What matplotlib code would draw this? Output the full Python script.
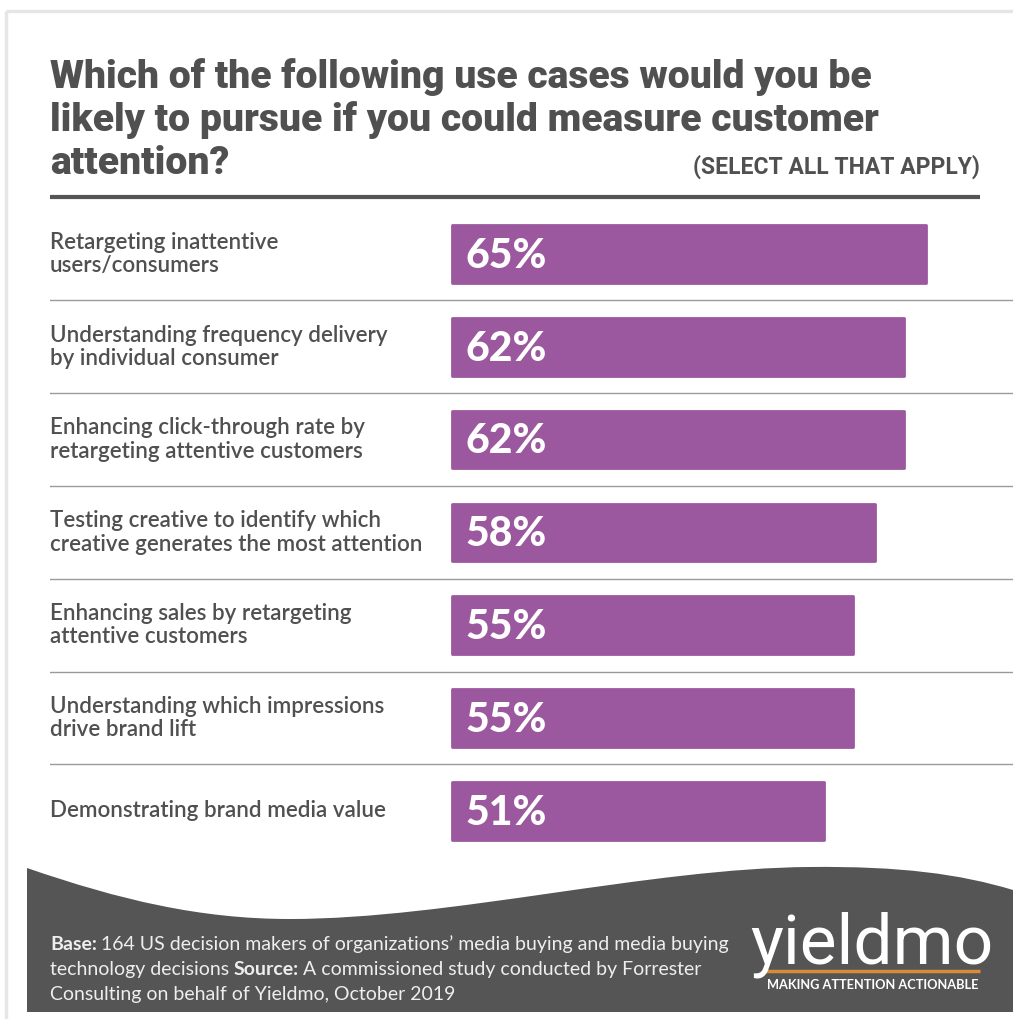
import matplotlib.pyplot as plt
from matplotlib.path import Path
from matplotlib.patches import PathPatch, Rectangle

categories = [
    'Retargeting inattentive\nusers/consumers',
    'Understanding frequency delivery\nby individual consumer',
    'Enhancing click-through rate by\nretargeting attentive customers',
    'Testing creative to identify which\ncreative generates the most attention',
    'Enhancing sales by retargeting\nattentive customers',
    'Understanding which impressions\ndrive brand lift',
    'Demonstrating brand media value',
]
values = [65, 62, 62, 58, 55, 55, 51]

title_lines = [
    'Which of the following use cases would you be',
    'likely to pursue if you could measure customer',
    'attention?',
]
subtitle = '(SELECT ALL THAT APPLY)'

W, H = 1013, 1019
TXT = '#505050'
BAR = '#9b589e'
FOOT = '#555555'

fig = plt.figure(figsize=(W / 100, H / 100), dpi=100)
fig.patch.set_facecolor('white')

# background axes in pixel coordinates for decorations
bg = fig.add_axes([0, 0, 1, 1])
bg.set_xlim(0, W)
bg.set_ylim(H, 0)
bg.axis('off')

# card border
bg.add_patch(Rectangle((6, 11), W, H, facecolor='none', edgecolor='#e6e6e6', lw=2.5))

# title
for i, line in enumerate(title_lines):
    bg.text(50, 88 + i * 43, line, fontsize=28.2, fontweight='black',
            family='Roboto', color=TXT, va='baseline', ha='left')
bg.text(980, 174, subtitle, fontsize=16.5, fontweight='bold', family='Roboto',
        color=TXT, va='baseline', ha='right')
bg.plot([50, 980], [197, 197], color=FOOT, lw=3, solid_capstyle='butt')

# footer wave
verts = [(27, 868), (120, 900), (200, 919), (290, 919),
         (450, 919), (650, 868), (810, 867),
         (900, 866), (960, 874), (W, 890),
         (W, 1012), (27, 1012), (27, 868)]
codes = [Path.MOVETO] + [Path.CURVE4] * 9 + [Path.LINETO] * 2 + [Path.CLOSEPOLY]
bg.add_patch(PathPatch(Path(verts, codes), facecolor=FOOT, edgecolor='none'))

fs = 14
fc = '#eeeeee'
t = bg.text(50, 950, 'Base:', fontsize=fs, fontweight='bold', family='Lato', color=fc, va='baseline')
bg.annotate('164 US decision makers of organizations\u2019 media buying and media buying',
            xy=(1, 0), xycoords=t, xytext=(3, 0), textcoords='offset points',
            fontsize=fs, family='Lato', color=fc, va='bottom')
t = bg.text(50, 975, 'technology decisions', fontsize=fs, family='Lato', color=fc, va='baseline')
t = bg.annotate('Source:', xy=(1, 0), xycoords=t, xytext=(3, 0), textcoords='offset points',
                fontsize=fs, fontweight='bold', family='Lato', color=fc, va='bottom')
bg.annotate('A commissioned study conducted by Forrester', xy=(1, 0), xycoords=t,
            xytext=(3, 0), textcoords='offset points',
            fontsize=fs, family='Lato', color=fc, va='bottom')
bg.text(50, 1000, 'Consulting on behalf of Yieldmo, October 2019', fontsize=fs,
        family='Lato', color=fc, va='baseline')

# logo
bg.text(872, 964, 'yieldmo', fontsize=50, fontweight='normal', family='Roboto',
        color='white', va='baseline', ha='center')
bg.plot([765, 980], [971, 971], color='#d98b3a', lw=2.5, solid_capstyle='butt')
bg.text(873, 989, 'MAKING ATTENTION ACTIONABLE', fontsize=9.2, fontweight='bold',
        family='Lato', color='white', va='baseline', ha='center')

# bar axes: x=0 at px 452, 7.29 px per percent; rows centered 254 + 92.8*i
px_per = 7.29
x0_px, left_px, right_px = 452, 50, W
row_h = 92.8
top_px = 254 - row_h / 2
n = len(values)
ax = fig.add_axes([left_px / W, 1 - (top_px + row_h * n) / H,
                   (right_px - left_px) / W, row_h * n / H])
ax.set_xlim(-(x0_px - left_px) / px_per, (right_px - x0_px) / px_per)
ax.set_ylim(n - 0.5, -0.5)
ax.axis('off')
ax.patch.set_alpha(0)

ypos = list(range(n))
ax.barh(ypos, values, height=0.62, left=0, color=BAR, edgecolor=BAR,
        linewidth=2, joinstyle='round')
for i in range(n - 1):
    ax.axhline(i + 0.5, color='#9a9a9a', lw=1)
for y, cat, v in zip(ypos, categories, values):
    ax.text(0, y, cat, transform=ax.get_yaxis_transform(), fontsize=16.1,
            fontweight='semibold', family='Lato', color=TXT, va='center',
            ha='left', linespacing=1.15)
    ax.text(1.9, y + 0.02, f'{v}%', fontsize=29.5, fontweight='black', family='Lato',
            color='white', va='center', ha='left')

fig.savefig('out.png', dpi=100)
